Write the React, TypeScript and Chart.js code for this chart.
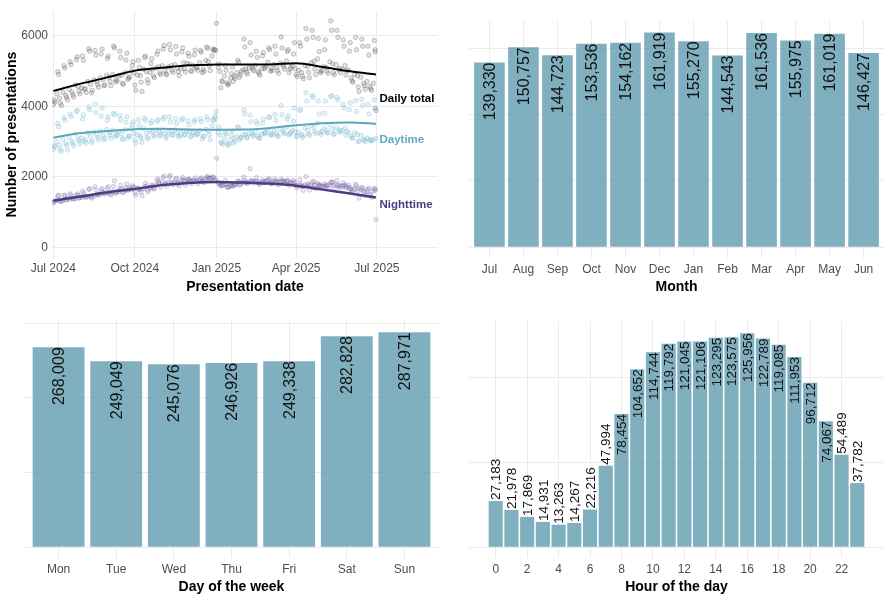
import React, { useEffect, useRef } from 'react';
import { Chart, registerables } from 'chart.js';

Chart.register(...registerables);

const FONT = '"Liberation Sans", Arial, Helvetica, sans-serif';
Chart.defaults.font.family = FONT;

const TICK_COLOR = '#4d4d4d';
const GRID_COLOR = '#ebebeb';
const BAR_COLOR = 'rgba(96,156,175,0.8)';

// ---------- Panel 1: daily presentations ----------
const START_DATE = '2024-07-01';
const SAMPLE_WEEKDAYS_A = [0, 2, 5]; // Mon, Wed, Sat of every week from START_DATE
const SAMPLE_WEEKDAYS_B = [1, 4, 6]; // Tue, Fri, Sun
const EXTRA_DATES = ['2025-06-29', '2025-06-30'];

const totalDailyA = [
  4050, 4120, 4980, 4230, 4020, 5150, 4310, 4180, 5260, 4400, 4260, 5320, 4560, 4350, 5420,
  4480, 4390, 5630, 4620, 4450, 5580, 4700, 4540, 5480, 4750, 4600, 5350,
  4820, 4580, 5700, 4690, 4710, 5560, 4880, 4620, 5310, 4760, 4830, 5150,
  4940, 4450, 5300, 4870, 4420, 5380, 4980, 4660, 5210, 5050, 4810, 5470, 5120, 4900, 5620,
  5010, 4890, 5750, 5150, 4960, 5690, 5080, 4870, 5540, 5230, 4970, 5500,
  5190, 4980, 5460, 5080, 5020, 5580, 4950, 4990, 5680, 5270, 5010, 5620,
  5610, 6350, 5200, 4520, 4690, 5150, 4660, 4640, 4920, 4700, 4790, 5300, 4820, 4980, 5900,
  5050, 4910, 5800, 5120, 5000, 5560, 4980, 4880, 5430, 5060, 5140, 5650,
  4990, 5010, 5700, 5100, 4930, 5960, 5180, 5050, 5550, 4950, 5100, 5480,
  5060, 4840, 5800, 4950, 4780, 6200, 5130, 4810, 6150, 5270, 4900, 5920, 4990, 5010, 5600,
  5100, 4930, 6420, 5200, 4890, 6150, 5030, 4950, 5880, 5150, 5010, 5560,
  4800, 4680, 5950, 4870, 4420, 5900, 4650, 4480, 5700, 4560, 4450, 5860,
];
const totalDailyB = [
  4180, 4350, 4900, 4090, 4400, 5080, 4250, 4480, 5180, 4330, 4600, 5400, 4420, 4520, 5300,
  4500, 4700, 5560, 4380, 4750, 5450, 4620, 4810, 5620, 4580, 4880, 5420,
  4700, 4900, 5650, 4760, 4870, 5380, 4650, 4950, 5500, 4800, 5000, 5260,
  4600, 4880, 5100, 4680, 5050, 5420, 4750, 4960, 5350, 4860, 5090, 5560, 4950, 5150, 5720,
  4920, 5110, 5600, 5020, 5180, 5480, 4980, 5060, 5650, 5060, 5220, 5420,
  5010, 5150, 5590, 5100, 5240, 5530, 5050, 5300, 5640, 5150, 5420, 5580,
  5580, 5100, 4980, 4720, 4860, 5020, 4600, 4800, 5100, 4850, 4950, 5250, 4890, 5030, 5680,
  4960, 5080, 5450, 5050, 5150, 5380, 4930, 5060, 5520, 5100, 5250, 5600,
  5060, 5180, 5480, 5010, 5220, 5650, 5120, 5280, 5600, 5050, 5150, 5800,
  4900, 5020, 5700, 4850, 5150, 5900, 4960, 5230, 5950, 5050, 5340, 5550, 4950, 5120, 5880,
  5000, 5260, 6150, 4950, 5180, 5950, 5080, 5050, 5700, 4880, 5020, 5800,
  4720, 4900, 5600, 4550, 4820, 5700, 4580, 4700, 5450, 4500, 4650, 5600,
];
const totalExtra = [5540, 3880];

const daytimeDailyA = [
  2780, 2850, 3520, 2900, 2720, 3680, 2950, 2760, 3780, 3000, 2880, 3850, 3080, 2940, 3640,
  3010, 2960, 3980, 3150, 3020, 4060, 3200, 3050, 3720, 3180, 3100, 3600,
  3250, 3090, 3800, 3150, 3180, 3740, 3220, 3060, 3550, 3100, 3150, 3480,
  3230, 2960, 3620, 3150, 2980, 3660, 3240, 3080, 3520, 3310, 3150, 3570, 3270, 3190, 3640,
  3220, 3150, 3700, 3300, 3180, 3650, 3260, 3120, 3610, 3320, 3200, 3580,
  3280, 3170, 3560, 3190, 3210, 3640, 3080, 3150, 3700, 3300, 3050, 3620,
  3720, 3850, 3400, 2980, 2930, 3250, 2950, 2920, 3180, 2960, 3010, 3420, 3050, 3120, 3900,
  3200, 3100, 3750, 3230, 3150, 3580, 3150, 3100, 3520, 3220, 3250, 3700,
  3180, 3200, 3760, 3230, 3150, 4020, 3300, 3220, 3640, 3190, 3260, 3580,
  3290, 3150, 3880, 3200, 3160, 4380, 3320, 3180, 4300, 3400, 3230, 4150, 3250, 3280, 3800,
  3330, 3240, 4280, 3350, 3220, 4250, 3300, 3260, 4050, 3380, 3290, 3900,
  3150, 3100, 4160, 3200, 3020, 4200, 3060, 3000, 4050, 3050, 3030, 4180,
];
const daytimeDailyB = [
  2880, 3000, 3420, 2780, 3060, 3600, 2900, 3120, 3700, 2950, 3220, 3880, 3020, 3100, 3760,
  3060, 3250, 3900, 2980, 3280, 3820, 3120, 3300, 3950, 3050, 3340, 3700,
  3180, 3320, 3760, 3200, 3280, 3620, 3080, 3330, 3700, 3160, 3360, 3560,
  3050, 3200, 3450, 3100, 3380, 3600, 3120, 3280, 3580, 3180, 3320, 3620, 3150, 3300, 3700,
  3100, 3260, 3560, 3200, 3330, 3520, 3170, 3200, 3660, 3180, 3300, 3480,
  3130, 3250, 3620, 3220, 3310, 3560, 3150, 3350, 3620, 3200, 3450, 3600,
  3660, 3250, 3180, 2960, 3080, 3220, 2900, 3050, 3300, 3080, 3150, 3380, 3100, 3200, 3780,
  3120, 3230, 3560, 3180, 3280, 3500, 3100, 3220, 3640, 3250, 3350, 3680,
  3220, 3300, 3600, 3160, 3360, 3760, 3250, 3400, 3720, 3220, 3320, 3950,
  3150, 3260, 3900, 3120, 3380, 4150, 3210, 3450, 4250, 3280, 3520, 3780, 3200, 3380, 4150,
  3250, 3480, 4300, 3200, 3400, 4180, 3330, 3310, 3950, 3180, 3250, 4100,
  3100, 3250, 3850, 3000, 3180, 4020, 3050, 3100, 3780, 3020, 3050, 3950,
];
const daytimeExtra = [3950, 3090];

const nighttimeDailyA = [
  1270, 1310, 1460, 1330, 1300, 1470, 1360, 1400, 1520, 1400, 1380, 1470, 1480, 1410, 1600,
  1470, 1420, 1650, 1460, 1430, 1720, 1500, 1490, 1620, 1570, 1520, 1680,
  1560, 1490, 1730, 1540, 1580, 1650, 1660, 1560, 1700, 1620, 1680, 1750,
  1710, 1490, 1680, 1640, 1470, 1720, 1740, 1580, 1690, 1740, 1660, 1900, 1850, 1710, 1980,
  1790, 1740, 2000, 1850, 1780, 1940, 1820, 1750, 1920, 1910, 1770, 1920,
  1910, 1810, 1900, 1890, 1810, 1940, 1870, 1840, 1980, 1970, 1960, 2000,
  1890, 2530, 1800, 1740, 1760, 1900, 1710, 1720, 1740, 1740, 1780, 1880, 1770, 1860, 2000,
  1850, 1810, 2230, 1890, 1850, 1980, 1830, 1780, 1910, 1840, 1890, 1950,
  1810, 1810, 1940, 1870, 1780, 1940, 1880, 1830, 1910, 1760, 1840, 1900,
  1770, 1690, 1920, 1750, 1620, 2010, 1810, 1630, 1850, 1870, 1670, 1770, 1740, 1730, 1800,
  1770, 1690, 1840, 1850, 1670, 1900, 1730, 1690, 1830, 1770, 1720, 1660,
  1650, 1580, 1790, 1670, 1400, 1700, 1590, 1480, 1650, 1510, 1420, 1680,
];
const nighttimeDailyB = [
  1300, 1350, 1480, 1310, 1340, 1480, 1350, 1360, 1480, 1380, 1380, 1520, 1400, 1420, 1540,
  1440, 1450, 1660, 1400, 1470, 1630, 1500, 1510, 1670, 1530, 1540, 1720,
  1520, 1580, 1890, 1560, 1590, 1760, 1570, 1620, 1800, 1640, 1640, 1700,
  1550, 1680, 1650, 1580, 1670, 1820, 1630, 1680, 1770, 1680, 1770, 1940, 1800, 1850, 2020,
  1820, 1850, 2040, 1820, 1850, 1960, 1810, 1860, 1990, 1880, 1920, 1940,
  1880, 1900, 1970, 1880, 1930, 1970, 1900, 1950, 2020, 1950, 1970, 1980,
  1920, 1850, 1800, 1760, 1780, 1800, 1700, 1750, 1800, 1770, 1800, 1870, 1790, 1830, 1900,
  1840, 1850, 1890, 1870, 1870, 1880, 1830, 1840, 1880, 1850, 1900, 1920,
  1840, 1880, 1880, 1850, 1860, 1890, 1870, 1880, 1880, 1830, 1830, 1850,
  1750, 1760, 1800, 1730, 1770, 1750, 1750, 1780, 1700, 1770, 1820, 1770, 1750, 1740, 1730,
  1750, 1780, 1850, 1750, 1780, 1770, 1750, 1740, 1750, 1700, 1770, 1700,
  1620, 1650, 1750, 1600, 1640, 1680, 1550, 1600, 1680, 1480, 1600, 1650,
];
const nighttimeExtra = [1620, 790];

const smoothDates = [
  '2024-07-01', '2024-08-01', '2024-09-01', '2024-10-01', '2024-11-01', '2024-12-01',
  '2025-01-01', '2025-02-01', '2025-03-01', '2025-04-01', '2025-05-01', '2025-06-01', '2025-06-30',
];
const totalSmooth = [4436, 4640, 4824, 5009, 5090, 5160, 5180, 5185, 5185, 5215, 5110, 4990, 4900];
const daytimeSmooth = [3110, 3240, 3300, 3350, 3360, 3340, 3335, 3340, 3380, 3460, 3520, 3540, 3500];
const nighttimeSmooth = [1326, 1444, 1564, 1660, 1768, 1830, 1859, 1840, 1812, 1750, 1640, 1530, 1417];

const dateTickDates = ['2024-07-01', '2024-10-01', '2025-01-01', '2025-04-01', '2025-07-01'];
const dateTickLabels = ['Jul 2024', 'Oct 2024', 'Jan 2025', 'Apr 2025', 'Jul 2025'];
const countTicks = [0, 2000, 4000, 6000];

const endLabels = ['Daily total', 'Daytime', 'Nighttime'];
const endLabelValues = [4207, 3039, 1215];
const endLabelDate = '2025-07-04';

// ---------- Panel 2: month ----------
const months = ['Jul', 'Aug', 'Sep', 'Oct', 'Nov', 'Dec', 'Jan', 'Feb', 'Mar', 'Apr', 'May', 'Jun'];
const monthValues = [139330, 150757, 144723, 153536, 154162, 161919, 155270, 144543, 161536, 155975, 161019, 146427];
const monthGrid = [0, 50000, 100000, 150000];

// ---------- Panel 3: weekday ----------
const weekdays = ['Mon', 'Tue', 'Wed', 'Thu', 'Fri', 'Sat', 'Sun'];
const weekdayValues = [268009, 249049, 245076, 246926, 249338, 282828, 287971];
const weekdayGrid = [0, 100000, 200000, 300000];

// ---------- Panel 4: hour ----------
const hours = [0, 1, 2, 3, 4, 5, 6, 7, 8, 9, 10, 11, 12, 13, 14, 15, 16, 17, 18, 19, 20, 21, 22, 23];
const hourValues = [
  27183, 21978, 17869, 14931, 13263, 14267, 22216, 47994, 78454, 104652, 114744, 119792,
  121045, 121106, 123295, 123575, 125956, 122789, 119085, 111953, 96712, 74067, 54489, 37782,
];
const hourTicks = [0, 2, 4, 6, 8, 10, 12, 14, 16, 18, 20, 22];
const hourGrid = [0, 50000, 100000];

// ---------- helpers ----------
function dayIndex(iso: string): number {
  const [y, m, d] = iso.split('-').map(Number);
  const [sy, sm, sd] = START_DATE.split('-').map(Number);
  return Math.round((Date.UTC(y, m - 1, d) - Date.UTC(sy, sm - 1, sd)) / 86400000);
}

function weekPoints(values: number[], weekdaysInWeek: number[]) {
  return values.map((v, i) => {
    const week = Math.floor(i / weekdaysInWeek.length);
    const k = i % weekdaysInWeek.length;
    return { x: week * 7 + weekdaysInWeek[k], y: v };
  });
}

function dailyPoints(a: number[], b: number[], extra: number[]) {
  const pts = [...weekPoints(a, SAMPLE_WEEKDAYS_A), ...weekPoints(b, SAMPLE_WEEKDAYS_B)];
  extra.forEach((v, i) => pts.push({ x: dayIndex(EXTRA_DATES[i]), y: v }));
  return pts.sort((p, q) => p.x - q.x);
}

function smoothPoints(values: number[]) {
  return values.map((v, i) => ({ x: dayIndex(smoothDates[i]), y: v }));
}

const fmt = (v: number) => v.toLocaleString('en-US');

function axisTitle(text: string) {
  return {
    display: true,
    text,
    color: '#000',
    font: { size: 14, weight: 'bold' as const, family: FONT },
    padding: { top: 4, bottom: 4.5 },
  };
}

function config1(): any {
  const tickDays = dateTickDates.map(dayIndex);
  const endLabelColors = ['#000000', '#5fabc3', '#4b3b82'];
  const endLabelPlugin = {
    id: 'endLabels',
    afterDatasetsDraw(chart: any) {
      const { ctx, scales } = chart;
      ctx.save();
      ctx.font = `bold 11.5px ${FONT}`;
      ctx.textAlign = 'left';
      ctx.textBaseline = 'middle';
      endLabels.forEach((t, i) => {
        ctx.fillStyle = endLabelColors[i];
        ctx.fillText(t, scales.x.getPixelForValue(dayIndex(endLabelDate)), scales.y.getPixelForValue(endLabelValues[i]));
      });
      ctx.restore();
    },
  };
  const pointDs = (label: string, data: any[], bg: string, border: string) => ({
    type: 'scatter',
    label,
    data,
    backgroundColor: bg,
    borderColor: border,
    borderWidth: 0.8,
    pointRadius: 2.2,
    order: 2,
  });
  const lineDs = (label: string, data: any[], color: string, width: number) => ({
    type: 'line',
    label,
    data,
    borderColor: color,
    borderWidth: width,
    pointRadius: 0,
    fill: false,
    tension: 0.4,
    cubicInterpolationMode: 'monotone',
    order: 1,
  });
  return {
    type: 'scatter',
    data: {
      datasets: [
        pointDs('Daily total', dailyPoints(totalDailyA, totalDailyB, totalExtra), 'rgba(80,80,80,0.15)', 'rgba(50,50,50,0.33)'),
        pointDs('Daytime', dailyPoints(daytimeDailyA, daytimeDailyB, daytimeExtra), 'rgba(140,195,215,0.2)', 'rgba(110,175,200,0.4)'),
        pointDs('Nighttime', dailyPoints(nighttimeDailyA, nighttimeDailyB, nighttimeExtra), 'rgba(130,110,175,0.15)', 'rgba(100,80,150,0.32)'),
        lineDs('Daily total smooth', smoothPoints(totalSmooth), '#000000', 2),
        lineDs('Daytime smooth', smoothPoints(daytimeSmooth), '#5aa6bb', 2),
        lineDs('Nighttime smooth', smoothPoints(nighttimeSmooth), '#4d3d80', 2.5),
      ],
    },
    options: {
      responsive: false,
      maintainAspectRatio: false,
      animation: false,
      layout: { padding: { top: 5, right: 7, bottom: 0, left: 0 } },
      plugins: { legend: { display: false }, tooltip: { enabled: false } },
      scales: {
        x: {
          type: 'linear',
          min: -1.5,
          max: 434,
          offset: false,
          grid: { color: GRID_COLOR, lineWidth: 1, drawTicks: false, offset: false },
          border: { display: false },
          afterBuildTicks: (s: any) => { s.ticks = tickDays.map((v) => ({ value: v })); },
          afterFit: (s: any) => { s.height = 42; },
          ticks: {
            autoSkip: false,
            maxRotation: 0,
            padding: 3,
            color: TICK_COLOR,
            font: { size: 12, family: FONT },
            callback: (v: number) => dateTickLabels[tickDays.indexOf(v)],
          },
          title: axisTitle('Presentation date'),
        },
        y: {
          type: 'linear',
          min: -296,
          max: 6691,
          grid: { color: GRID_COLOR, lineWidth: 1, drawTicks: false },
          border: { display: false },
          afterBuildTicks: (s: any) => { s.ticks = countTicks.map((v) => ({ value: v })); },
          afterFit: (s: any) => { s.width = 52; },
          ticks: {
            padding: 4,
            color: TICK_COLOR,
            font: { size: 12, family: FONT },
            callback: (v: number) => String(v),
          },
          title: axisTitle('Number of presentations'),
        },
      },
    },
    plugins: [endLabelPlugin],
  };
}

interface BarSpec {
  positions: number[];
  values: number[];
  tickPositions: number[];
  tickLabels: string[];
  xMin: number;
  xMax: number;
  yMin: number;
  yMax: number;
  grid: number[];
  title: string;
  labelSize: number;
  outsideBelow: number;
}

function barConfig(spec: BarSpec): any {
  const labelPlugin = {
    id: 'barLabels',
    afterDatasetsDraw(chart: any) {
      const { ctx } = chart;
      const meta = chart.getDatasetMeta(0);
      ctx.save();
      ctx.font = `${spec.labelSize}px ${FONT}`;
      ctx.fillStyle = '#111';
      ctx.textBaseline = 'middle';
      meta.data.forEach((el: any, i: number) => {
        const v = spec.values[i];
        const inside = v >= spec.outsideBelow;
        ctx.save();
        ctx.translate(el.x + 1, el.y);
        ctx.rotate(-Math.PI / 2);
        ctx.textAlign = inside ? 'right' : 'left';
        ctx.fillText(fmt(v), inside ? 0 : 1, 0);
        ctx.restore();
      });
      ctx.restore();
    },
  };
  return {
    type: 'bar',
    data: {
      datasets: [
        {
          label: spec.title,
          data: spec.positions.map((p, i) => ({ x: p, y: spec.values[i] })),
          backgroundColor: BAR_COLOR,
          borderWidth: 0,
          barPercentage: 0.9,
          categoryPercentage: 1,
        },
      ],
    },
    options: {
      responsive: false,
      maintainAspectRatio: false,
      animation: false,
      layout: { padding: { top: 21, right: 6, bottom: 0, left: 0 } },
      plugins: { legend: { display: false }, tooltip: { enabled: false } },
      scales: {
        x: {
          type: 'linear',
          min: spec.xMin,
          max: spec.xMax,
          offset: false,
          grid: { color: GRID_COLOR, lineWidth: 1, drawTicks: false, offset: false },
          border: { display: false },
          afterBuildTicks: (s: any) => { s.ticks = spec.tickPositions.map((v) => ({ value: v })); },
          afterFit: (s: any) => { s.height = 42; },
          ticks: {
            autoSkip: false,
            maxRotation: 0,
            padding: 4,
            color: TICK_COLOR,
            font: { size: 12, family: FONT },
            callback: (v: number) => spec.tickLabels[spec.tickPositions.indexOf(v)],
          },
          title: axisTitle(spec.title),
        },
        y: {
          type: 'linear',
          min: spec.yMin,
          max: spec.yMax,
          grid: { color: GRID_COLOR, lineWidth: 1, drawTicks: false },
          border: { display: false },
          afterBuildTicks: (s: any) => { s.ticks = spec.grid.map((v) => ({ value: v })); },
          afterFit: (s: any) => { s.width = 24; },
          ticks: { display: false },
        },
      },
    },
    plugins: [labelPlugin],
  };
}

function config2() {
  const pos = months.map((_, i) => i);
  return barConfig({
    positions: pos, values: monthValues, tickPositions: pos, tickLabels: months,
    xMin: -0.6, xMax: 11.6, yMin: -8070, yMax: 170600, grid: monthGrid,
    title: 'Month', labelSize: 16, outsideBelow: 0,
  });
}

function config3() {
  const pos = weekdays.map((_, i) => i);
  return barConfig({
    positions: pos, values: weekdayValues, tickPositions: pos, tickLabels: weekdays,
    xMin: -0.6, xMax: 6.6, yMin: -14300, yMax: 303100, grid: weekdayGrid,
    title: 'Day of the week', labelSize: 16, outsideBelow: 0,
  });
}

function config4() {
  return barConfig({
    positions: hours, values: hourValues, tickPositions: hourTicks, tickLabels: hourTicks.map(String),
    xMin: -1.7, xMax: 24.7, yMin: -6300, yMax: 133100, grid: hourGrid,
    title: 'Hour of the day', labelSize: 13.5, outsideBelow: 62978,
  });
}

function Panel({ left, top, make }: { left: number; top: number; make: () => any }) {
  const ref = useRef<HTMLCanvasElement | null>(null);
  useEffect(() => {
    if (!ref.current) return;
    const chart = new Chart(ref.current, make());
    return () => chart.destroy();
  }, []);
  return (
    <div style={{ position: 'absolute', left, top, width: 445, height: 300 }}>
      <canvas ref={ref} width={445} height={300} style={{ width: 445, height: 300, display: 'block' }} />
    </div>
  );
}

export default function App() {
  return (
    <div style={{ position: 'absolute', left: 0, top: 0, width: 890, height: 600, background: '#fff' }}>
      <Panel left={0} top={0} make={config1} />
      <Panel left={445} top={0} make={config2} />
      <Panel left={0} top={300} make={config3} />
      <Panel left={445} top={300} make={config4} />
    </div>
  );
}
